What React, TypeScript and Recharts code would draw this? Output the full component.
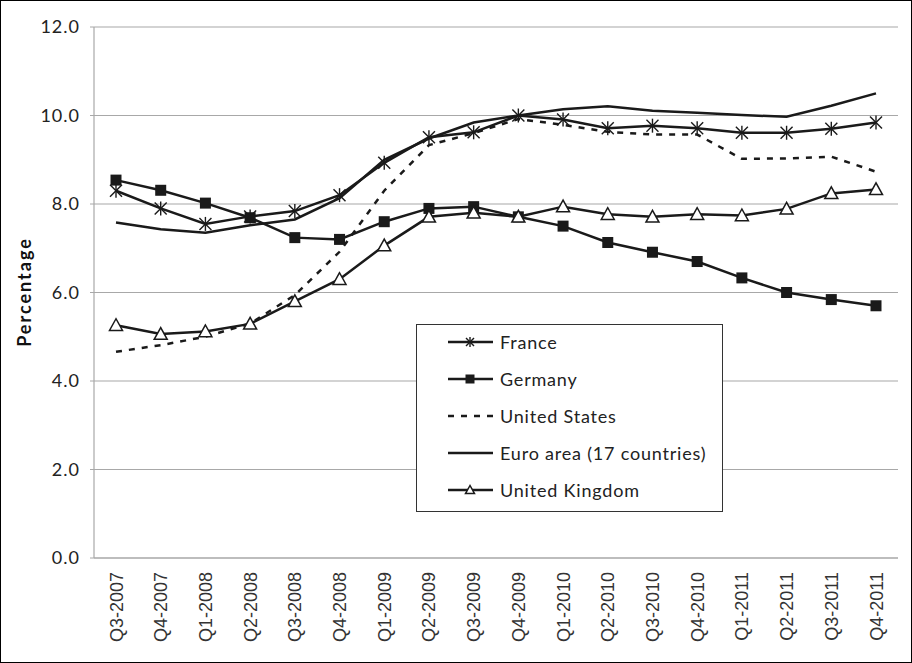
import React from 'react';
import { LineChart, Line, XAxis, YAxis, CartesianGrid, Legend } from 'recharts';

const quarters = ['Q3-2007', 'Q4-2007', 'Q1-2008', 'Q2-2008', 'Q3-2008', 'Q4-2008', 'Q1-2009', 'Q2-2009', 'Q3-2009', 'Q4-2009', 'Q1-2010', 'Q2-2010', 'Q3-2010', 'Q4-2010', 'Q1-2011', 'Q2-2011', 'Q3-2011', 'Q4-2011'];
const france = [8.3, 7.9, 7.55, 7.72, 7.84, 8.2, 8.93, 9.51, 9.62, 10.0, 9.91, 9.71, 9.77, 9.71, 9.61, 9.61, 9.7, 9.84];
const germany = [8.54, 8.31, 8.02, 7.69, 7.24, 7.2, 7.6, 7.9, 7.94, 7.71, 7.5, 7.13, 6.91, 6.7, 6.33, 6.0, 5.84, 5.7];
const unitedStates = [4.66, 4.81, 5.0, 5.3, 5.94, 6.92, 8.3, 9.33, 9.6, 9.92, 9.79, 9.63, 9.57, 9.57, 9.02, 9.03, 9.07, 8.73];
const euroArea = [7.58, 7.43, 7.35, 7.52, 7.65, 8.13, 9.0, 9.48, 9.84, 10.0, 10.14, 10.21, 10.11, 10.06, 10.01, 9.97, 10.22, 10.5];
const unitedKingdom = [5.26, 5.06, 5.12, 5.29, 5.8, 6.3, 7.06, 7.71, 7.8, 7.71, 7.94, 7.77, 7.71, 7.77, 7.74, 7.89, 8.24, 8.33];
const yTicks = [0, 2, 4, 6, 8, 10, 12];

const data = quarters.map((q, i) => ({
  q,
  france: france[i],
  germany: germany[i],
  us: unitedStates[i],
  euro: euroArea[i],
  uk: unitedKingdom[i],
}));

const INK = '#1a1a1a';

const Asterisk = ({ cx, cy, s = 6 }: any) => (
  <g>
    <line x1={cx - s} y1={cy - s} x2={cx + s} y2={cy + s} stroke={INK} strokeWidth={1.4} />
    <line x1={cx - s} y1={cy + s} x2={cx + s} y2={cy - s} stroke={INK} strokeWidth={1.4} />
    <line x1={cx} y1={cy - s - 1} x2={cx} y2={cy + s + 1} stroke={INK} strokeWidth={1.4} />
  </g>
);
const Square = ({ cx, cy, s = 5.5 }: any) => (
  <rect x={cx - s} y={cy - s} width={2 * s} height={2 * s} fill={INK} />
);
const Triangle = ({ cx, cy, s = 6.5 }: any) => (
  <polygon points={`${cx},${cy - s} ${cx - s},${cy + s * 0.8} ${cx + s},${cy + s * 0.8}`} fill="#fff" stroke={INK} strokeWidth={1.5} />
);

const dotAst = (p: any) => <Asterisk key={`a${p.index}`} cx={p.cx} cy={p.cy} />;
const dotSq = (p: any) => <Square key={`s${p.index}`} cx={p.cx} cy={p.cy} />;
const dotTri = (p: any) => <Triangle key={`t${p.index}`} cx={p.cx} cy={p.cy} />;

const XTick = ({ x, y, payload }: any) => {
  const tx = x + 6.5;
  const ty = y + 14;
  return (
    <text x={tx} y={ty} transform={`rotate(-90, ${tx}, ${ty})`} textAnchor="end" fontFamily="'Liberation Sans', Arial, sans-serif" fontSize={18} fill="#333">
      {payload.value}
    </text>
  );
};

const legendItems = [
  { name: 'France', kind: 'ast' },
  { name: 'Germany', kind: 'sq' },
  { name: 'United States', kind: 'dash' },
  { name: 'Euro area (17 countries)', kind: 'line' },
  { name: 'United Kingdom', kind: 'tri' },
];

const LegendBox = () => (
  <div style={{ width: 307, height: 188, border: '1px solid #333', background: '#fff', boxSizing: 'border-box', position: 'relative', fontFamily: 'Lato, sans-serif', fontSize: 18, letterSpacing: 0.8, color: '#222' }}>
    {legendItems.map((e, i) => (
      <div key={e.name} style={{ position: 'absolute', left: 0, top: 17 + i * 37 - 12, height: 24, display: 'flex', alignItems: 'center' }}>
        <svg width={83} height={24} style={{ display: 'block' }}>
          <line x1={31} y1={12} x2={76} y2={12} stroke={INK} strokeWidth={2.5} strokeDasharray={e.kind === 'dash' ? '6 7' : undefined} />
          {e.kind === 'ast' && <Asterisk cx={53} cy={12} s={4} />}
          {e.kind === 'sq' && <Square cx={53} cy={12} s={4.5} />}
          {e.kind === 'tri' && <Triangle cx={53} cy={12} s={4.5} />}
        </svg>
        <span style={{ whiteSpace: 'nowrap' }}>{e.name}</span>
      </div>
    ))}
  </div>
);

export default function App() {
  return (
    <div style={{ position: 'absolute', left: 0, top: 0, width: 912, height: 663, background: '#fff' }}>
      <LineChart width={912} height={663} data={data} margin={{ top: 27, right: 14, left: 0, bottom: 0 }}>
        <CartesianGrid vertical={false} stroke="#a8a8a8" strokeWidth={1.2} />
        <XAxis dataKey="q" height={105} padding={{ left: 22, right: 22 }} axisLine={{ stroke: '#a8a8a8', strokeWidth: 1.2 }} tickLine={false} tickSize={0} tickMargin={0} tick={<XTick />} interval={0} />
        <YAxis
          width={94}
          domain={[0, 12]}
          ticks={yTicks}
          tickFormatter={(v: number) => v.toFixed(1)}
          axisLine={{ stroke: '#a8a8a8', strokeWidth: 1.2 }}
          tickLine={{ stroke: '#a8a8a8' }}
          tickSize={4}
          tickMargin={10}
          tick={{ fill: '#222', fontFamily: 'Lato, sans-serif', fontSize: 18, letterSpacing: 1 }}
          label={{
            content: () => (
              <text x={31} y={292} transform="rotate(-90, 31, 292)" textAnchor="middle" fontFamily="Lato, sans-serif" fontWeight="bold" fontSize={18} letterSpacing={2} fill="#111">
                Percentage
              </text>
            ),
          }}
        />
        <Legend layout="vertical" align="center" verticalAlign="middle" wrapperStyle={{ left: 416, top: 324, width: 307, height: 188 }} content={() => <LegendBox />} />
        <Line dataKey="euro" name="Euro area (17 countries)" stroke={INK} strokeWidth={2.5} dot={false} isAnimationActive={false} />
        <Line dataKey="us" name="United States" stroke={INK} strokeWidth={2.5} strokeDasharray="6 7" dot={false} isAnimationActive={false} />
        <Line dataKey="germany" name="Germany" stroke={INK} strokeWidth={2.5} dot={dotSq} isAnimationActive={false} />
        <Line dataKey="uk" name="United Kingdom" stroke={INK} strokeWidth={2.5} dot={dotTri} isAnimationActive={false} />
        <Line dataKey="france" name="France" stroke={INK} strokeWidth={2.5} dot={dotAst} isAnimationActive={false} />
      </LineChart>
      <div style={{ position: 'absolute', left: 0, top: 0, width: 912, height: 663, border: '1px solid #000', boxSizing: 'border-box', pointerEvents: 'none' }} />
    </div>
  );
}
